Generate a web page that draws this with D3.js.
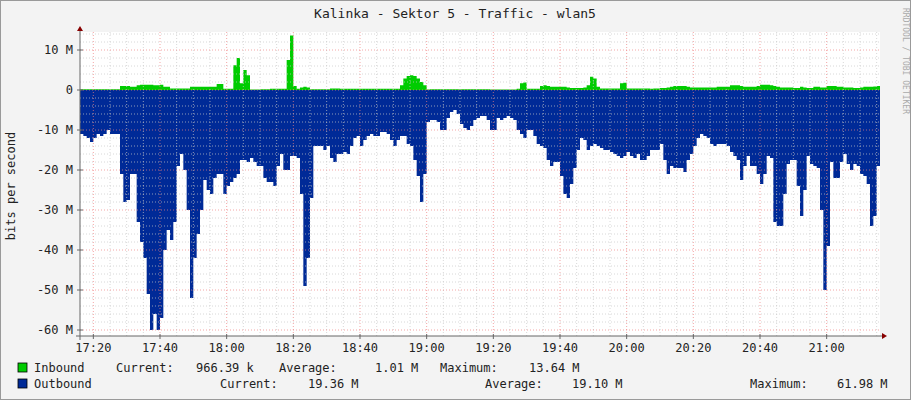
<!DOCTYPE html>
<html><head><meta charset="utf-8">
<script src="https://cdn.jsdelivr.net/npm/d3@7"></script>
<style>body{margin:0;background:#f3f3f3}text{font-family:"DejaVu Sans Mono",monospace;fill:#222}</style>
</head><body><svg id="c" width="911" height="400"></svg>
<script>
// minutes after 17:16, one sample per minute (values in M bit/s)
const startMinute = 17*60+16;
const outbound = [
11,11.5,12,13,12,11,11.5,11,10,11, 11,11,21,28,27.5,21,21,33,38,42,
51,60,56,60,57,40,35,37.5,33,19, 16,20,30,52,42,36,30,22.5,25,26,
22,21,21,26,24,23,22,21,17.5,17.5, 18,17,18,19,19,22,23,23,24,19,
16,20,20,16.5,16.5,17,26,49,42,27, 14,14,14,15,14,17,18,16,16,15.5,
16,14,12,11.5,14,12.5,11.5,11,11.5,11.5, 10.5,10.5,11,12.5,14,12.5,11.5,11.5,13.5,14,
17.5,21.5,28,21,8,7.5,7.5,8,10,10, 7,5.5,5,6,8.5,9.5,10,9,7.5,7,
6.5,6.5,7.5,10,10,7,7.5,7,6.5,7, 7.5,10,11,12,10,10,11.5,13.5,14,14.5,
17.5,19,18,18,21.5,26,27,23.5,19.5,15, 12,12.5,15,14,13.5,14,14.5,15,15,15.5,
16,16.5,17,16.5,15.5,16.5,17,16,17.5,17.5, 16.5,15,15,15,13.5,17.5,21,19,19.5,19.5,
19.5,20.5,17.5,16,14,12,11,11.5,12,13.5, 14,13.5,13.5,13.5,14,15.5,16.5,17.5,22.5,19,
16.5,19,19,21,23.5,21,16.5,17,33,34, 34,26,18.5,17.5,17.5,24,31.5,25,16.5,18.5,
19,19.5,30,50,39,18,22,22,18,16, 18.5,20,18.5,19,21,21.5,23.5,34,31.5,19
];
const inbound = [
0.2,0.2,0.2,0.2,0.2,0.2,0.2,0.2,0.2,0.2, 0.2,0.2,1,1,1,0.8,0.8,1.2,1.3,1.3,
1.3,1.3,1.2,1.2,1.3,0.8,0.8,0.4,0.4,0.4, 0.4,0.4,0.4,0.8,0.8,0.8,0.8,0.8,0.8,0.8,
0.8,1.5,1.5,0.3,0.3,0.3,6.2,8,1.7,5, 3.7,0.1,0.1,0.1,0.2,0.2,0.2,0.3,0.3,0.3,
0.3,0.3,7.5,13.6,1,0.3,0.6,0.8,0.6,0.2, 0.2,0.2,0.2,0.2,0.2,0.4,0.4,0.4,0.3,0.3,
0.3,0.3,0.3,0.3,0.3,0.3,0.3,0.3,0.3,0.3, 0.3,0.3,0.3,0.3,0.3,0.3,1.2,2.9,3.5,3.7,
3.5,2.9,2,1.2,0.1,0.2,0.2,0.2,0.2,0.2, 0.2,0.2,0.2,0.2,0.2,0.2,0.2,0.2,0.2,0.2,
0.2,0.2,0.2,0.1,0.1,0.1,0.1,0.1,0.1,0.1, 0.1,0.3,1.7,1.9,0.3,0.3,0.3,0.3,1,1.2,
1,0.8,0.8,0.8,0.8,0.8,0.6,0.5,0.5,0.5, 0.5,0.6,1.2,3.3,2.9,0.8,0.4,0.4,0.4,0.4,
0.4,0.4,1.7,1.8,0.4,0.4,0.4,0.4,0.4,0.4, 0.4,0.3,0.4,0.4,0.5,0.5,0.6,0.8,1,1,
1,1,0.8,0.6,0.6,0.6,0.6,0.6,0.6,0.6, 0.6,0.8,0.8,0.8,0.8,1.2,1.2,1.2,1,0.8,
0.8,0.8,0.8,1,1.3,1.3,1.3,1.2,1,0.8, 0.6,0.6,0.6,0.6,0.5,0.5,0.8,0.6,0.5,0.5,
0.8,0.8,0.6,0.6,1,1,1,0.8,0.8,0.6, 0.6,0.6,0.5,0.5,0.6,0.8,0.8,0.8,0.9,0.97
];
const yTicks = [10,0,-10,-20,-30,-40,-50,-60];
const xTickMinutes = [4,24,44,64,84,104,124,144,164,184,204,224];
const legendRows = [
  {name:"Inbound", color:"#00cc00", parts:[["Current:",116],["966.39 k",196],["Average:",279],["1.01 M",375],["Maximum:",440],["13.64 M",529]]},
  {name:"Outbound", color:"#002a97", parts:[["Current:",220],["19.36 M",308],["Average:",485],["19.10 M",572],["Maximum:",750],["61.98 M",837]]}
];

const svg = d3.select("#c");
const L=80,R=880,T=32,B=336;
const x = d3.scaleLinear().domain([0,240]).range([L,R]);
const y = d3.scaleLinear().domain([-61.5,14.5]).range([B,T]);
svg.append("rect").attr("width",911).attr("height",400).attr("fill","#f3f3f3");
svg.append("rect").attr("x",L).attr("y",T).attr("width",R-L).attr("height",B-T).attr("fill","#fff");
// areas
const tail=(arr)=>arr.map((v,i)=>[i,v]).concat([[arr.length,arr[arr.length-1]]]);
svg.append("path").datum(tail(inbound)).attr("fill","#00cc00")
  .attr("d",d3.area().curve(d3.curveStepAfter).x(d=>x(d[0])).y0(y(0)).y1(d=>y(d[1])));
svg.append("path").datum(tail(outbound)).attr("fill","#002a97")
  .attr("d",d3.area().curve(d3.curveStepAfter).x(d=>x(d[0])).y0(y(0)).y1(d=>y(-d[1])));
// grid (drawn over the areas, like rrdtool)
const minorX=d3.range(4,241,5);
minorX.forEach(m=>{const major=(m-4)%20===0;
  svg.append("line").attr("x1",x(m)).attr("x2",x(m)).attr("y1",T).attr("y2",B)
   .attr("stroke",major?"#f08080":"#c8c8c8").attr("stroke-opacity",0.7).attr("stroke-dasharray","1,2");});
d3.range(-60,15,2).forEach(v=>{const major=v%10===0;
  svg.append("line").attr("x1",L).attr("x2",R).attr("y1",y(v)).attr("y2",y(v))
   .attr("stroke",major?"#f08080":"#c8c8c8").attr("stroke-opacity",0.7).attr("stroke-dasharray","1,2");});
// axes
const ax="#666";
svg.append("line").attr("x1",L).attr("x2",L).attr("y1",T-4).attr("y2",B+4).attr("stroke",ax);
svg.append("line").attr("x1",L-4).attr("x2",R+4).attr("y1",B).attr("y2",B).attr("stroke",ax);
svg.append("path").attr("d",`M${L-3},${T-1}L${L+3},${T-1}L${L},${T-6}Z`).attr("fill","#800");
svg.append("path").attr("d",`M${R+2},${B-3}L${R+2},${B+3}L${R+7},${B}Z`).attr("fill","#800");
yTicks.forEach(v=>{
  svg.append("line").attr("x1",L-3).attr("x2",L+3).attr("y1",y(v)).attr("y2",y(v)).attr("stroke",ax);
  svg.append("text").attr("x",73).attr("y",y(v)+4).attr("text-anchor","end").attr("font-size",12)
   .text(v===0?"0":v+" M");});
xTickMinutes.forEach(m=>{
  svg.append("line").attr("x1",x(m)).attr("x2",x(m)).attr("y1",B-2).attr("y2",B+3).attr("stroke",ax);
  const t=startMinute+m;
  svg.append("text").attr("x",x(m)).attr("y",352).attr("text-anchor","middle").attr("font-size",12)
   .text(Math.floor(t/60)+":"+String(t%60).padStart(2,"0"));});
// titles
svg.append("text").attr("x",455).attr("y",18).attr("text-anchor","middle").attr("font-size",13).text("Kalinka - Sektor 5 - Traffic - wlan5");
svg.append("text").attr("transform","translate(15,186) rotate(-90)").attr("text-anchor","middle").attr("font-size",12).text("bits per second");
svg.append("text").attr("transform","translate(903,8) rotate(90)").attr("font-size",8).style("fill","#aaa").text("RRDTOOL / TOBI OETIKER");
// legend
legendRows.forEach((r,i)=>{const yy=372+i*16;
  svg.append("rect").attr("x",18).attr("y",yy-9).attr("width",9).attr("height",9).attr("fill",r.color).attr("stroke","#000").attr("stroke-width",0.8);
  svg.append("text").attr("x",34).attr("y",yy).attr("font-size",12).text(r.name);
  r.parts.forEach(p=>svg.append("text").attr("x",p[1]).attr("y",yy).attr("font-size",12).text(p[0]));});
// frame
svg.append("rect").attr("x",0.5).attr("y",0.5).attr("width",910).attr("height",399).attr("fill","none").attr("stroke","#999");
</script></body></html>
